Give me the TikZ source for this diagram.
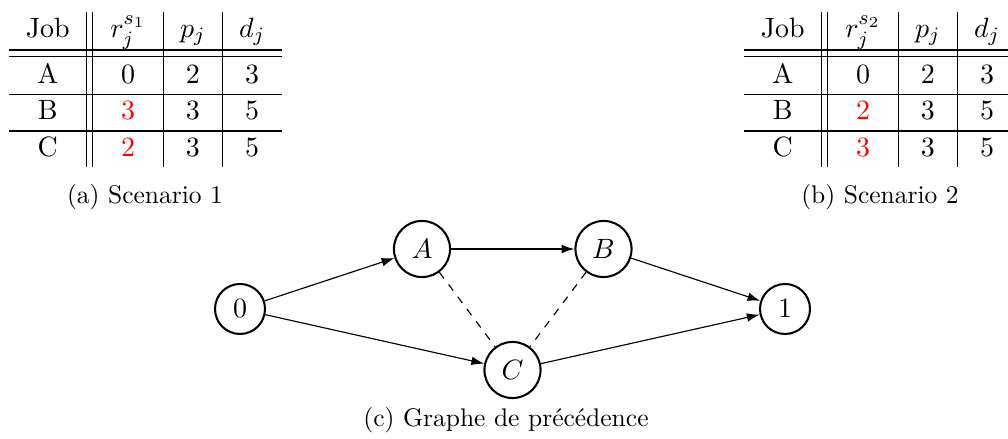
\documentclass[tikz,border=0pt]{standalone}
\usepackage{fontspec}
\usetikzlibrary{arrows.meta}
\newcommand{\bigtext}{\fontsize{10.95}{13.6}\selectfont}
\begin{document}
\begin{tikzpicture}[x=0.392pt,y=-0.392pt,
  rule/.style={line width=0.4pt},
  cell/.style={anchor=base,inner sep=0pt,font=\bigtext},
  hot/.style={text=red},
  state/.style={circle,draw,line width=0.8pt,minimum size=19.6pt,inner sep=0pt,font=\bigtext},
  widestate/.style={state,minimum size=22pt},
  arc/.style={-{Latex[length=5pt,width=3.4pt]},line width=0.45pt},
  conflict/.style={dashed,line width=0.45pt},
  captext/.style={anchor=base,inner sep=0pt}]
\useasboundingbox (0,0) rectangle (1008,439);

% ---------- tables ----------
\foreach \ox/\s/\vb/\vc/\n in {0/1/3/2/a, 735/2/2/3/b}{
  \begin{scope}[xshift=\ox*0.392pt]
    % vertical rules
    \foreach \vx in {86.7,92.7,163.3,222.3}
      \draw[rule] (\vx,12.3) -- (\vx,166.7);
    % horizontal rules
    \foreach \hy in {50,56.7,94.3,131}
      \draw[rule] (9,\hy) -- (281.7,\hy);
    % header
    \node[cell] (job\n) at (47.8,37.3) {Job};
    \node[cell] (r\n)   at (128,37.3) {$r_j^{s_{\s}}$};
    \node[cell] (p\n)   at (192.8,37.3) {$p_j$};
    \node[cell] (d\n)   at (252,37.3) {$d_j$};
    % row A
    \node[cell] (A\n)  at (47.8,83.3) {A};
    \node[cell] (rA\n) at (128,83.3) {0};
    \node[cell] (pA\n) at (192.8,83.3) {2};
    \node[cell] (dA\n) at (252,83.3) {3};
    % row B
    \node[cell] (B\n)  at (47.8,120) {B};
    \node[cell,hot] (rB\n) at (128,120) {\vb};
    \node[cell] (pB\n) at (192.8,120) {3};
    \node[cell] (dB\n) at (252,120) {5};
    % row C
    \node[cell] (C\n)  at (47.8,156.7) {C};
    \node[cell,hot] (rC\n) at (128,156.7) {\vc};
    \node[cell] (pC\n) at (192.8,156.7) {3};
    \node[cell] (dC\n) at (252,156.7) {5};
  \end{scope}
}
\node[captext] (capa) at (145,204) {(a) Scenario 1};
\node[captext] (capb) at (880,204) {(b) Scenario 2};

% ---------- graph ----------
\node[state]     (n0) at (240,309)   {$0$};
\node[widestate] (nA) at (422,249)   {$A$};
\node[widestate] (nB) at (603.5,249) {$B$};
\node[widestate] (nC) at (512.5,370) {$C$};
\node[state]     (n1) at (785,309)   {$1$};

\draw[arc] (n0) -- (nA);
\draw[arc] (n0) -- (nC);
\draw[arc] (nA) -- (nB);
\draw[arc] (nB) -- (n1);
\draw[arc] (nC) -- (n1);
\draw[conflict] (nA) -- (nC);
\draw[conflict] (nB) -- (nC);

\node[captext] (capc) at (506,427) {(c) Graphe de précédence};
\end{tikzpicture}
\end{document}
